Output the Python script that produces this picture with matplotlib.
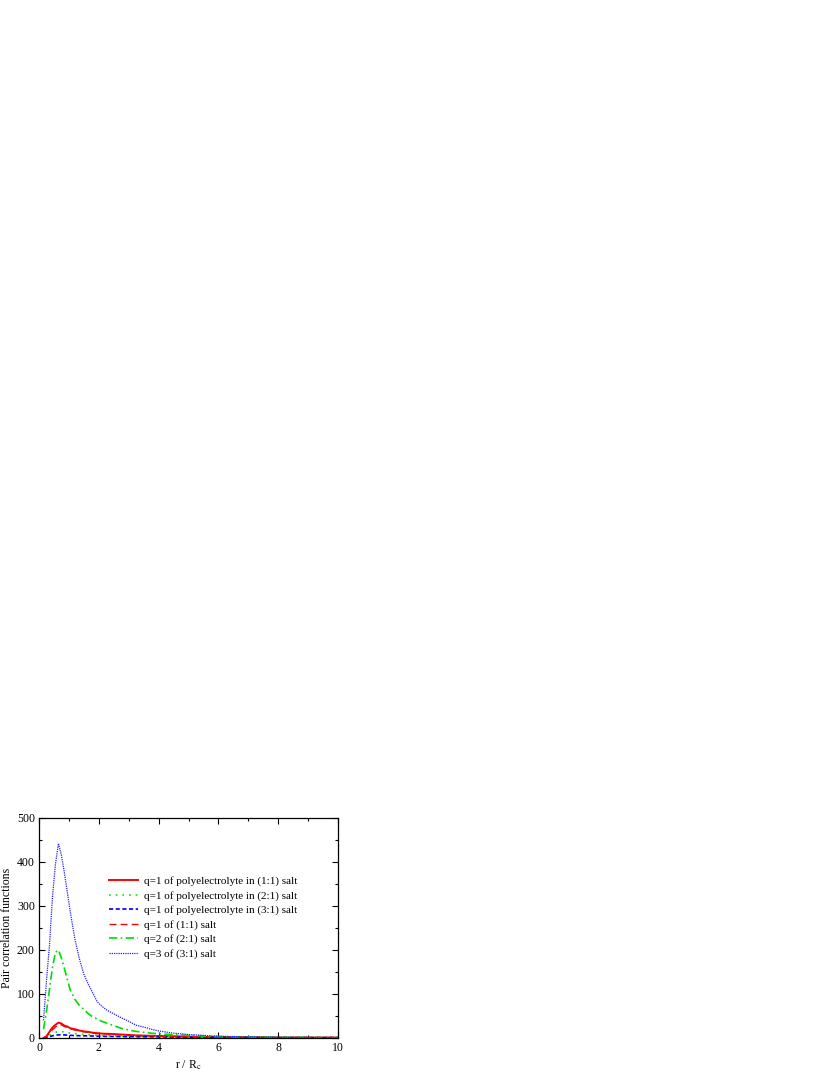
import matplotlib
matplotlib.use('Agg')
import matplotlib.pyplot as plt
from matplotlib.ticker import MultipleLocator

plt.rcParams['font.family'] = ['Liberation Serif', 'DejaVu Serif']
plt.rcParams['mathtext.fontset'] = 'stix'

# r / Rc grid shared by all curves
r = [0.15, 0.25, 0.35, 0.45, 0.55, 0.65, 0.75, 0.85, 0.95, 1.05, 1.2, 1.35,
     1.5, 1.65, 1.8, 1.95, 2.1, 2.3, 2.5, 2.75, 3.0, 3.25, 3.5, 3.75, 4.0,
     4.5, 5.0, 5.5, 6.0, 6.5, 7.0, 8.0, 9.0, 10.0]

pe_11 = [0, 4, 14, 24, 30, 35, 33, 28, 26, 22, 20, 17, 15, 14, 12, 11, 10,
         9.5, 9, 8, 7, 6, 5.5, 5, 4.5, 4, 3, 2.5, 2, 2, 1.5, 1, 1, 1]
pe_21 = [0, 2, 6, 10, 13, 15, 15, 13, 12, 11, 10, 9, 8, 7.5, 7, 6, 5.5, 5,
         4.8, 4.5, 4, 3.8, 3.5, 3.2, 3, 2.5, 2, 1.8, 1.5, 1.3, 1.2, 1, 1, 1]
pe_31 = [0, 1, 3, 5, 6, 7, 7.5, 7, 6.5, 6, 5.5, 5.2, 5, 4.8, 4.5, 4, 3.8, 3.6,
         3.5, 3.2, 3, 2.9, 2.8, 2.6, 2.5, 2.2, 2, 1.8, 1.5, 1.3, 1.2, 1, 1, 1]
salt_11 = [0, 3, 11, 19, 25, 30, 30, 26, 24, 21, 18, 16, 14, 13, 11, 10, 9.5,
           9, 8, 7, 6, 5.5, 5, 4.5, 4, 3.5, 3, 2.5, 2, 1.8, 1.5, 1, 1, 1]
salt_22 = [20, 60, 110, 160, 195, 200, 182, 158, 132, 108, 88, 74, 65, 55,
           48, 43, 38, 33, 28, 22, 18, 15, 13, 11, 9.5, 7.5, 6, 4.5, 3.5, 3,
           2.5, 1.5, 1, 0.5]
salt_33 = [40, 130, 210, 320, 395, 442, 415, 375, 330, 285, 225, 180, 145,
           122, 102, 82, 72, 62, 55, 46, 38, 29, 25, 20, 16, 11, 8, 6, 4, 3,
           2.5, 1.5, 1, 0.5]

labels = ['q=1 of polyelectrolyte in (1:1) salt',
          'q=1 of polyelectrolyte in (2:1) salt',
          'q=1 of polyelectrolyte in (3:1) salt',
          'q=1 of (1:1) salt',
          'q=2 of (2:1) salt',
          'q=3 of (3:1) salt']

fig = plt.figure(figsize=(8.3, 10.75), dpi=100)
ax = fig.add_axes([39/830, 37/1075, 299/830, 220/1075])

ax.plot(r, pe_11, color='#ff0000', lw=1.4, ls='-', label=labels[0])
ax.plot(r, pe_21, color='#00ee00', lw=1.2, ls=(0, (1, 3)), label=labels[1])
ax.plot(r, pe_31, color='#0000ee', lw=1.2, ls=(0, (2.5, 1.5)), label=labels[2])
ax.plot(r, salt_11, color='#ff0000', lw=1.0, ls=(0, (5, 3)), label=labels[3])
ax.plot(r, salt_22, color='#00dd00', lw=1.2, ls=(0, (5, 2, 1, 2)), label=labels[4])
ax.plot(r, salt_33, color='#2020ff', lw=0.9, ls=(0, (1, 0.8)), label=labels[5])

ax.set_xlim(0, 10)
ax.set_ylim(0, 500)
ax.xaxis.set_major_locator(MultipleLocator(2))
ax.xaxis.set_minor_locator(MultipleLocator(1))
ax.yaxis.set_major_locator(MultipleLocator(100))
ax.yaxis.set_minor_locator(MultipleLocator(50))
ax.tick_params(which='both', direction='in', top=True, right=True,
               labelsize=8.5, pad=3)
ax.tick_params(which='major', length=4, width=0.8)
ax.tick_params(which='minor', length=2, width=0.8)
for s in ax.spines.values():
    s.set_linewidth(0.9)

ax.set_xlabel(r'r / R$_{\mathrm{c}}$', fontsize=8.5, labelpad=3)
ax.set_ylabel('Pair correlation functions', fontsize=8.5, labelpad=3)

ax.legend(loc='upper left', bbox_to_anchor=(0.235, 0.735), frameon=False,
          fontsize=8, handlelength=2.6, handletextpad=0.5, labelspacing=0.4,
          borderaxespad=0, borderpad=0)

fig.savefig('out.png', dpi=100)
